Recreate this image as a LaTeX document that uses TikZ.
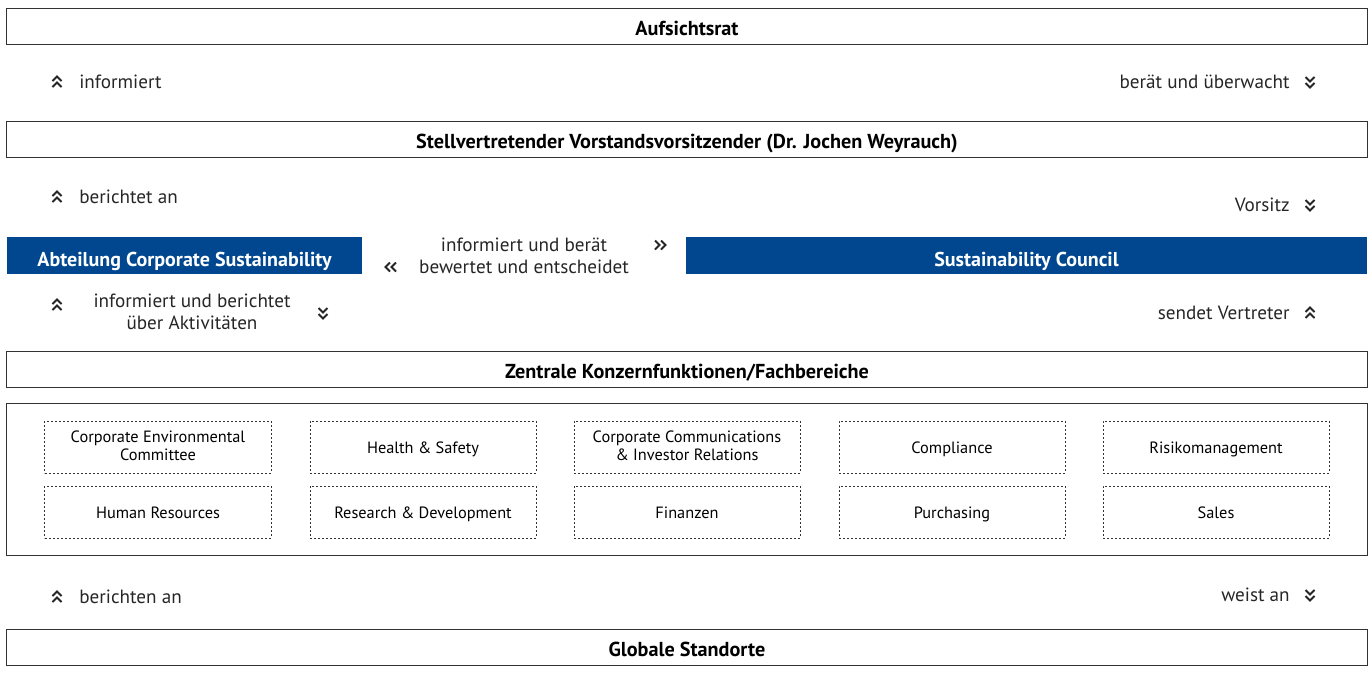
\documentclass[tikz,border=0pt]{standalone}
\usepackage{fontspec}
\setmainfont{PT Sans}
\usetikzlibrary{positioning}
\definecolor{csblue}{RGB}{0,71,143}
\definecolor{framegray}{RGB}{50,50,50}
\newcommand{\fbstrut}{\rule[-0.14\baselineskip]{0pt}{\baselineskip}}
\tikzset{%
	bar/.style={%
		draw=framegray,
		line width=0.2mm,
		minimum width=272mm,
		minimum height=7.2mm,
		inner sep=0pt,
		text height=10.5pt,
		text depth=0pt,
		font=\fontsize{11.5}{14}\selectfont\bfseries
	},
	bluebar/.style={%
		fill=csblue,
		text=white,
		inner sep=0pt,
		minimum height=7.4mm,
		text height=12.5pt,
		text depth=0pt,
		font=\fontsize{11.4}{14}\selectfont\bfseries
	},
	unit/.style={%
		draw=framegray,
		line width=0.2mm,
		dash pattern=on 0.4mm off 0.4mm,
		minimum width=45.2mm,
		minimum height=10.4mm,
		inner sep=0pt,
		align=center,
		execute at begin node=\fbstrut,
		execute at end node=\fbstrut,
		font=\fontsize{9.3}{10.8}\selectfont
	},
	lbl/.style={inner sep=0pt, align=center, text=black!85, font=\fontsize{10.9}{12.5}\selectfont},
	chev/.pic={%
		\draw[line width=0.4mm, black!85] (-4.5,-1) -- (0,-5.5) -- (4.5,-1) (-4.5,5) -- (0,0.5) -- (4.5,5);
	}
}

\begin{document}
\begin{tikzpicture}[x=0.2mm, y=-0.2mm]
        \useasboundingbox (0,0) rectangle (1371,686);
        % bars
        \node [bar] (aufsichtsrat) at (687,26) {Aufsichtsrat};
        \node [bar] (vorstand) at (687,139) {Stellvertretender Vorstandsvorsitzender (Dr. Jochen Weyrauch)};
        \node [bluebar, minimum width=71mm] (abteilung) at (184.5,255.5) {Abteilung Corporate Sustainability};
        \node [bluebar, minimum width=136.2mm] (council) at (1026.5,255.5) {Sustainability Council};
        \node [bar] (zentrale) at (687,369.5) {Zentrale Konzernfunktionen/Fachbereiche};
        \node [bar, minimum height=30.4mm] (fachbox) at (687,479) {};
        \node [bar] (standorte) at (687,647) {Globale Standorte};
        % fachbereiche
        \foreach \x/\txt [count=\i] in {158/{Corporate Environmental\\Committee}, 423/{Health \& Safety}, 687/{Corporate Communications\\\& Investor Relations}, 952/Compliance, 1216/Risikomanagement}
            \node [unit] (fb-a\i) at (\x,447) {\txt};
        \foreach \x/\txt [count=\i] in {158/Human Resources, 423/{Research \& Development}, 687/Finanzen, 952/Purchasing, 1216/Sales}
            \node [unit] (fb-b\i) at (\x,512) {\txt};
        % labels
        \node [lbl, anchor=west] (informiert) at (79,82) {informiert};
        \node [lbl, anchor=east] (beraet) at (1290,82) {berät und überwacht};
        \node [lbl, anchor=west] (berichtet) at (79,197) {berichtet an};
        \node [lbl, anchor=east] (vorsitz) at (1290,205) {Vorsitz};
        \node [lbl] (mitte) at (524,256) {informiert und berät\\bewertet und entscheidet};
        \node [lbl] (aktiv) at (192,312) {informiert und berichtet\\über Aktivitäten};
        \node [lbl, anchor=east] (vertreter) at (1290,313) {sendet Vertreter};
        \node [lbl, anchor=west] (berichten) at (79,597) {berichten an};
        \node [lbl, anchor=east] (weist) at (1290,595) {weist an};
        % chevrons
        \pic at (57,82) {chev};
        \pic [rotate=180] at (1310,82) {chev};
        \pic at (57,197) {chev};
        \pic [rotate=180] at (1310,205) {chev};
        \pic [rotate=90] at (391,267) {chev};
        \pic [rotate=-90] at (660,245) {chev};
        \pic at (57,305) {chev};
        \pic [rotate=180] at (323,313) {chev};
        \pic at (1310,313) {chev};
        \pic at (57,597) {chev};
        \pic [rotate=180] at (1310,595) {chev};
    \end{tikzpicture}
\end{document}
